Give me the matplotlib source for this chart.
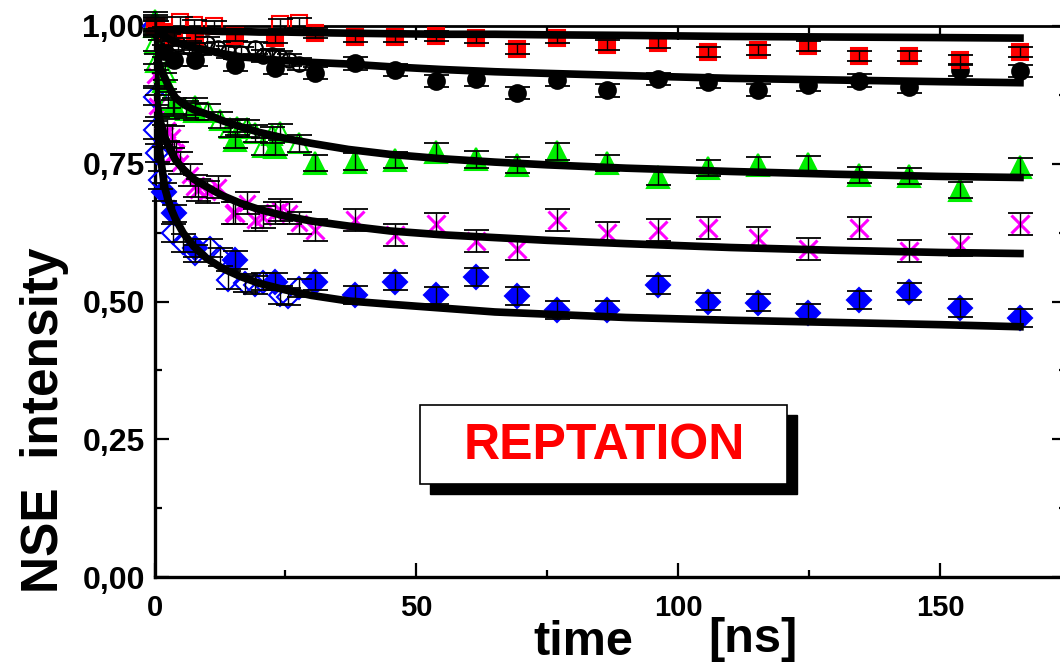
import matplotlib
matplotlib.use("Agg")
import matplotlib.pyplot as plt
from matplotlib.patches import Rectangle
from matplotlib.ticker import MultipleLocator, FixedLocator


# long-time (filled symbols) and short-time (open symbols) data
T_LONG = [0.0, 1.9, 3.8, 7.7, 15.4, 23.0, 30.6, 38.3, 45.9, 53.7, 61.4, 69.2, 76.8,
          86.5, 96.1, 105.7, 115.2, 124.8, 134.5, 144.1, 153.8, 165.3]
RED_LONG = [1.0, 0.990, 0.981, 0.978, 0.981, 0.978, 0.987, 0.980, 0.980, 0.982, 0.979,
            0.958, 0.979, 0.966, 0.969, 0.952, 0.956, 0.964, 0.946, 0.946, 0.938, 0.953]
BLACK_LONG = [1.0, 0.955, 0.938, 0.938, 0.929, 0.923, 0.914, 0.932, 0.920, 0.900, 0.903,
              0.879, 0.902, 0.883, 0.904, 0.898, 0.884, 0.893, 0.901, 0.889, 0.920, 0.919]
GREEN_LONG = [1.0, 0.900, 0.855, 0.845, 0.793, 0.781, 0.751, 0.754, 0.757, 0.772, 0.758,
              0.748, 0.772, 0.751, 0.726, 0.742, 0.748, 0.749, 0.730, 0.728, 0.702, 0.745]
MAGENTA_LONG = [1.0, 0.800, 0.770, 0.710, 0.660, 0.660, 0.630, 0.648, 0.621, 0.641, 0.609,
                0.595, 0.648, 0.624, 0.630, 0.633, 0.615, 0.595, 0.634, 0.592, 0.603, 0.641]
BLUE_LONG = [1.0, 0.699, 0.660, 0.597, 0.575, 0.536, 0.536, 0.512, 0.536, 0.511, 0.545,
             0.510, 0.485, 0.485, 0.530, 0.500, 0.498, 0.480, 0.503, 0.518, 0.488, 0.470]

T_RED_SHORT = [0.3, 4.9, 7.5, 11.4, 24.0, 27.5]
RED_SHORT = [1.0, 1.008, 1.002, 1.0, 1.004, 1.006]
T_BLACK_SHORT = [1.0, 2.5, 4.5, 6.5, 8.5, 10.0, 12.2, 14.0, 16.5, 19.2, 20.8, 22.5, 24.0, 25.7, 27.6]
BLACK_SHORT = [0.985, 0.975, 0.968, 0.962, 0.958, 0.969, 0.960, 0.953, 0.951, 0.960, 0.946,
               0.948, 0.944, 0.939, 0.931]
T_GREEN_SHORT = [0.1, 0.1, 0.2, 2.0, 2.6, 3.6, 6.1, 7.7, 10.2, 12.5, 14.4, 15.7, 17.6, 19.2,
                 20.8, 22.4, 24.0, 27.5]
GREEN_SHORT = [1.01, 0.969, 0.935, 0.917, 0.866, 0.851, 0.848, 0.854, 0.844, 0.829, 0.814,
               0.817, 0.814, 0.805, 0.781, 0.802, 0.808, 0.787]
T_MAGENTA_SHORT = [0.1, 0.4, 2.3, 3.3, 4.2, 4.9, 6.8, 8.4, 10.0, 12.2, 15.0, 17.6, 19.2, 20.8,
                   24.0, 25.6, 27.5]
MAGENTA_SHORT = [0.911, 0.854, 0.811, 0.799, 0.769, 0.751, 0.730, 0.702, 0.699, 0.708, 0.660,
                 0.678, 0.648, 0.654, 0.666, 0.660, 0.642]
T_BLUE_SHORT = [0.1, 0.1, 0.4, 1.0, 3.6, 5.5, 7.7, 10.6, 12.5, 14.1, 17.3, 19.2, 20.8, 24.0,
                25.5, 27.5]
BLUE_SHORT = [0.872, 0.811, 0.769, 0.720, 0.624, 0.606, 0.587, 0.597, 0.581, 0.539, 0.534,
              0.530, 0.536, 0.512, 0.509, 0.524]

ERR_RED = 0.009
ERR_BLACK = 0.011
ERR_GREEN = 0.015
ERR_MAGENTA = 0.02
ERR_BLUE = 0.016

# fit curves (reptation model)
T_FIT = [0, 0.25, 0.5, 1, 2, 3, 4, 5.5, 7.5, 10, 13, 16.5, 20, 25, 30, 37, 45, 55, 65, 75,
         90, 110, 130, 150, 166]
FIT_RED = [1.0, 0.998, 0.997, 0.996, 0.995, 0.994, 0.993, 0.993, 0.992, 0.991, 0.990, 0.990,
           0.989, 0.989, 0.988, 0.987, 0.986, 0.985, 0.985, 0.984, 0.983, 0.981, 0.980, 0.979, 0.978]
FIT_BLACK = [1.0, 0.994, 0.991, 0.987, 0.980, 0.975, 0.971, 0.966, 0.961, 0.956, 0.950, 0.944,
             0.941, 0.937, 0.934, 0.931, 0.926, 0.921, 0.917, 0.914, 0.910, 0.905, 0.902, 0.899, 0.897]
FIT_GREEN = [1.0, 0.960, 0.945, 0.925, 0.905, 0.885, 0.870, 0.858, 0.848, 0.840, 0.828, 0.817,
             0.807, 0.796, 0.787, 0.776, 0.767, 0.759, 0.753, 0.748, 0.742, 0.736, 0.731, 0.727, 0.725]
FIT_MAGENTA = [1.0, 0.900, 0.858, 0.830, 0.798, 0.775, 0.757, 0.740, 0.722, 0.708, 0.692, 0.678,
               0.667, 0.655, 0.646, 0.637, 0.628, 0.621, 0.616, 0.611, 0.605, 0.598, 0.593, 0.589, 0.587]
FIT_BLUE = [1.0, 0.900, 0.835, 0.770, 0.705, 0.672, 0.650, 0.624, 0.600, 0.578, 0.560, 0.545,
            0.533, 0.521, 0.511, 0.501, 0.495, 0.488, 0.481, 0.477, 0.471, 0.466, 0.462, 0.458, 0.454]

BOLD = ["Liberation Sans", "DejaVu Sans"]

fig = plt.figure(figsize=(10.6, 6.67), dpi=100)
W, H = 1060, 667
x0, x1 = 154.5, 1065.7
y_top, y_bot = 26, 577
ax = fig.add_axes([x0 / W, 1 - y_bot / H, (x1 - x0) / W, (y_bot - y_top) / H])


def draw_series(t, y, err, color, marker, ms, filled):
    if filled:
        face = color
    else:
        face = "none"
    mew = 2.2 if marker == "x" else 1.5
    ax.plot(t, y, linestyle="none", marker=marker, ms=ms, mfc=face, mec=color, mew=mew,
            zorder=3, clip_on=False)
    ax.errorbar(t, y, yerr=err, fmt="none", ecolor="black", elinewidth=1.0, capsize=9,
                capthick=1.3, zorder=4, clip_on=False)


series = [
    (T_LONG, RED_LONG, T_RED_SHORT, RED_SHORT, ERR_RED, "#ff0000", "s", 11.5, 11),
    (T_LONG, BLACK_LONG, T_BLACK_SHORT, BLACK_SHORT, ERR_BLACK, "black", "o", 12, 10.5),
    (T_LONG, GREEN_LONG, T_GREEN_SHORT, GREEN_SHORT, ERR_GREEN, "#00ee00", "^", 15.5, 14),
    (T_LONG, MAGENTA_LONG, T_MAGENTA_SHORT, MAGENTA_SHORT, ERR_MAGENTA, "#ff00ff", "x", 12.5, 11),
    (T_LONG, BLUE_LONG, T_BLUE_SHORT, BLUE_SHORT, ERR_BLUE, "#0000ff", "D", 12.5, 11),
]
for t_l, y_l, t_s, y_s, err, color, marker, ms_l, ms_s in reversed(series):
    draw_series(t_s, y_s, err, color, marker, ms_s, filled=False)
    draw_series(t_l, y_l, err, color, marker, ms_l, filled=True)

for fit in [FIT_RED, FIT_BLACK, FIT_GREEN, FIT_MAGENTA, FIT_BLUE]:
    ax.plot(T_FIT, fit, color="black", linewidth=5.5, solid_capstyle="butt",
            solid_joinstyle="round", zorder=5)

ax.set_xlim(0, 174)
ax.set_ylim(0, 1.0)
ax.xaxis.set_major_locator(FixedLocator([0, 50, 100, 150]))
ax.xaxis.set_minor_locator(FixedLocator([25, 75, 125]))
ax.yaxis.set_major_locator(MultipleLocator(0.25))
ax.yaxis.set_minor_locator(MultipleLocator(0.125))
ax.set_xticklabels(["0", "50", "100", "150"], family=BOLD, fontweight="bold", fontsize=21)
ax.set_yticks([0, 0.25, 0.5, 0.75, 1.0])
ax.set_yticklabels(["0,00", "0,25", "0,50", "0,75", "1,00"], family=BOLD, fontweight="bold",
                   fontsize=23)

for side in ["left", "bottom"]:
    ax.spines[side].set_linewidth(2.4)
for side in ["top", "right"]:
    ax.spines[side].set_linewidth(2.0)
ax.tick_params(which="both", direction="in", top=True, right=True, width=1.6)
ax.tick_params(which="major", length=10)
ax.tick_params(which="minor", length=5)
ax.tick_params(axis="x", which="major", pad=12)
ax.tick_params(axis="y", which="major", pad=7)

fig.text(20 / W, 1 - 420 / H, "NSE  intensity", rotation=90, ha="left", va="center",
         family=BOLD, fontweight="bold", fontsize=37)
fig.text(583 / W, 1 - 655 / H, "time", ha="center", va="baseline", family=BOLD,
         fontweight="bold", fontsize=35)
fig.text(753 / W, 1 - 652 / H, "[ns]", ha="center", va="baseline", family=BOLD,
         fontweight="bold", fontsize=35)

# boxed label with drop shadow
fig.patches.append(Rectangle((430 / W, 1 - 494 / H), 367 / W, 79 / H, transform=fig.transFigure,
                             facecolor="black", edgecolor="black", zorder=6))
fig.patches.append(Rectangle((420 / W, 1 - 484 / H), 367 / W, 79 / H, transform=fig.transFigure,
                             facecolor="white", edgecolor="black", linewidth=1.2, zorder=7))
fig.text(604 / W, 1 - 446 / H, "REPTATION", ha="center", va="center", color="#ff0000",
         family=BOLD, fontweight="bold", fontsize=36, zorder=8)

fig.savefig("out.png", dpi=100)
